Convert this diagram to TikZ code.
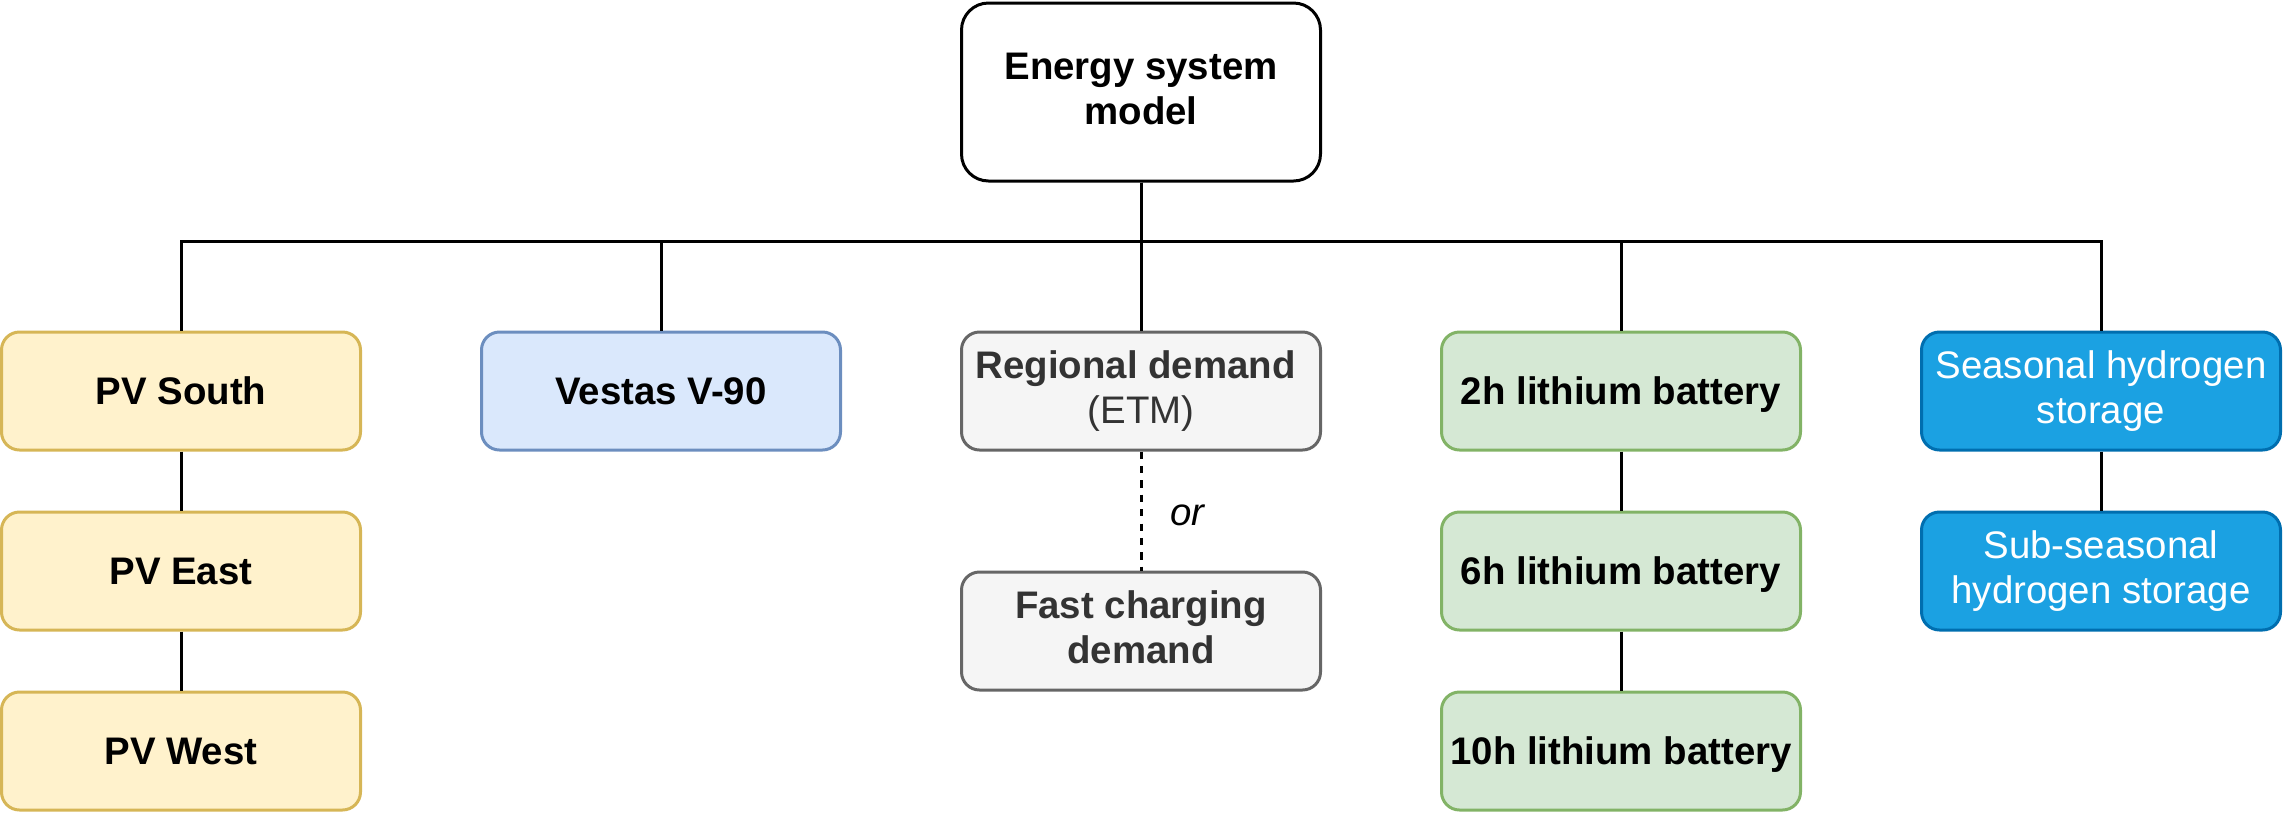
\documentclass[tikz,border=0pt]{standalone}
\usepackage{fontspec}
\setmainfont{Liberation Sans}
\usetikzlibrary{calc}

\definecolor{pvfill}{HTML}{FFF2CC}
\definecolor{pvline}{HTML}{D6B656}
\definecolor{windfill}{HTML}{DAE8FC}
\definecolor{windline}{HTML}{6C8EBF}
\definecolor{demfill}{HTML}{F5F5F5}
\definecolor{demline}{HTML}{666666}
\definecolor{demtext}{HTML}{333333}
\definecolor{battfill}{HTML}{D5E8D4}
\definecolor{battline}{HTML}{82B366}
\definecolor{htwofill}{HTML}{1BA1E2}
\definecolor{htwoline}{HTML}{006EAF}

\newcommand*{\boxfont}{\fontsize{19.2}{22.5}\selectfont}
% line box as tall as the font's ascent and descent
\newcommand*{\linestrut}{\rule[-0.18em]{0pt}{1.085em}}

\begin{document}
\begin{tikzpicture}[
		x=0.5pt, y=-0.5pt,
		box/.style={draw,rounded corners=9pt,line width=1.5pt,minimum width=179.5pt,minimum height=59pt,
			inner sep=0pt,align=center,font=\boxfont\bfseries,
			execute at begin node=\linestrut,execute at end node=\linestrut},
		topbox/.style={box,rounded corners=13.5pt,minimum height=89pt,fill=white},
		pv/.style={box,fill=pvfill,draw=pvline},
		wind/.style={box,fill=windfill,draw=windline},
		demand/.style={box,fill=demfill,draw=demline,text=demtext},
		batt/.style={box,fill=battfill,draw=battline},
		htwo/.style={box,fill=htwofill,draw=htwoline,text=white,font=\boxfont},
		link/.style={line width=1.5pt},
		orlink/.style={link,dash pattern=on 3.6pt off 3.6pt},
]

\def\colA{181}
\def\colB{661}
\def\colC{1141}
\def\colD{1621}
\def\colE{2101}
\def\rowA{391}
\def\rowB{571}
\def\rowC{751}
\def\busY{241}

\path [use as bounding box] (0,0) rectangle (2283,816);

\node [topbox] (esm) at (\colC, 92) {Energy system\\model};

% technologies
\node [pv] (pvS) at (\colA, \rowA) {PV South};
\node [pv] (pvE) at (\colA, \rowB) {PV East};
\node [pv] (pvW) at (\colA, \rowC) {PV West};

\node [wind] (wind) at (\colB, \rowA) {Vestas V-90};

\node [demand] (regio) at (\colC, \rowA) {Regional demand\kern0.28em\\\mdseries(ETM)};
\node [demand] (fast) at (\colC, 631) {Fast charging\\demand};

\node [batt] (bat2) at (\colD, \rowA) {2h lithium battery};
\node [batt] (bat6) at (\colD, \rowB) {6h lithium battery};
\node [batt] (bat10) at (\colD, \rowC) {10h lithium battery};

\node [htwo] (hseas) at (\colE, \rowA) {Seasonal hydrogen\\storage};
\node [htwo] (hsub) at (\colE, \rowB) {Sub-seasonal\\hydrogen storage};

% tree
\coordinate (bus) at (\colC, \busY);
\foreach \child in {pvS,wind,regio,bat2,hseas}
	\draw [link] (esm.south) -- (bus) -| (\child.north);

\draw [link] (pvS) -- (pvE);
\draw [link] (pvE) -- (pvW);
\draw [link] (bat2) -- (bat6);
\draw [link] (bat6) -- (bat10);
\draw [link] (hseas) -- (hsub);
\draw [orlink] (regio) -- node [right=14pt,inner sep=0pt,font=\boxfont\itshape,yshift=-2pt] (or) {or} (fast);

\end{tikzpicture}
\end{document}
